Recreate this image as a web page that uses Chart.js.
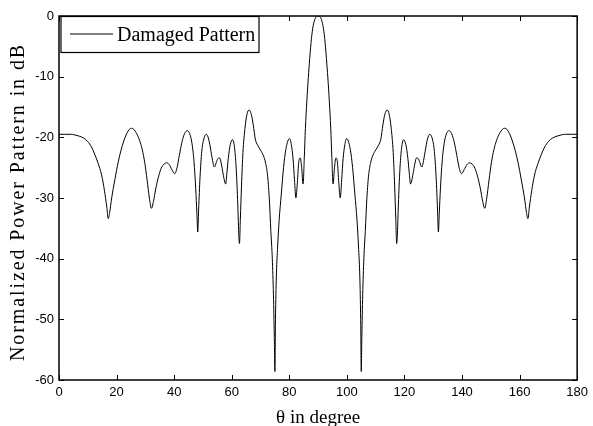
<!DOCTYPE html>
<html>
<head>
<meta charset="utf-8">
<script src="https://cdn.jsdelivr.net/npm/chart.js@4.4.1/dist/chart.umd.min.js"></script>
<style>
  html, body { margin: 0; padding: 0; background: #fff; }
  canvas { display: block; }
</style>
</head>
<body>
<canvas id="myChart" width="593" height="426"></canvas>
<script>
/*  Damaged array pattern  */

  const angles = [
    0, 2, 4, 5.5, 7, 8.5, 10, 11.3, 12.5, 13.6, 14.8, 15.8, 16.6, 17.1, 17.6, 18.3, 19.4, 20.6, 21.5, 22.5,
    23.5, 24.4, 25.2, 26, 27, 28, 28.9, 29.8, 30.6, 31.4, 32.1, 32.8, 33.6, 34.5, 35.5, 36.5, 37.4, 38.3, 39.2, 40.2,
    41, 41.8, 42.7, 43.6, 44.6, 45.4, 46.2, 46.9, 47.5, 47.9, 48.2, 48.5, 49, 49.6, 50.4, 51.2, 52, 52.8, 53.5, 54,
    54.6, 55.2, 55.8, 56.4, 57, 57.5, 57.9, 58.3, 58.8, 59.5, 60.3, 61, 61.6, 62.1, 62.5, 62.7, 63, 63.4, 63.9, 64.6,
    65.3, 66, 66.8, 67.5, 68.2, 69, 70, 71, 71.8, 72.5, 73.1, 73.6, 74.1, 74.5, 74.8, 75, 75.2, 75.5, 75.9, 76.5,
    77.2, 78, 78.8, 79.5, 80.1, 80.7, 81.3, 81.8, 82.3, 82.8, 83.3, 83.8, 84.3, 84.8, 85.2, 85.6, 86.1, 86.6, 87.1, 87.7,
    88.3, 89, 89.5, 90,
    90.5, 91, 91.7, 92.3, 92.9, 93.4, 93.9, 94.4, 94.8, 95.2, 95.7, 96.2, 96.7, 97.2, 97.7, 98.2, 98.7, 99.3, 99.9, 100.5,
    101.2, 102, 102.8, 103.5, 104.1, 104.5, 104.8, 105, 105.2, 105.5, 105.9, 106.4, 106.9, 107.5, 108.2, 109, 110, 111, 111.8, 112.5,
    113.2, 114, 114.7, 115.4, 116.1, 116.6, 117, 117.3, 117.5, 117.9, 118.4, 119, 119.7, 120.5, 121.2, 121.7, 122.1, 122.5, 123, 123.6,
    124.2, 124.8, 125.4, 126, 126.5, 127.2, 128, 128.8, 129.6, 130.4, 131, 131.5, 131.8, 132.1, 132.5, 133.1, 133.8, 134.6, 135.4, 136.4,
    137.3, 138.2, 139, 139.8, 140.8, 141.7, 142.6, 143.5, 144.5, 145.5, 146.4, 147.2, 147.9, 148.6, 149.4, 150.2, 151.1, 152, 153, 154,
    154.8, 155.6, 156.5, 157.5, 158.5, 159.4, 160.6, 161.7, 162.4, 162.9, 163.4, 164.2, 165.2, 166.4, 167.5, 168.7, 170, 171.5, 173, 174.5,
    176, 178, 180
  ];

  const pattern = [
    -19.5, -19.5, -19.5, -19.6, -19.8, -20.1, -20.7, -21.6, -22.9, -24.3, -26.2, -28.8, -31.5, -33.4, -32.4, -30, -27, -24, -22.2, -20.6,
    -19.4, -18.7, -18.5, -18.7, -19.4, -20.5, -22, -24.2, -27, -30, -31.7, -30.6, -28.5, -26.6, -25.1, -24.4, -24.2, -24.5, -25.3, -26,
    -25, -23, -20.8, -19.4, -18.9, -19.4, -21, -24, -28.5, -32.5, -35.6, -32, -26.5, -22.3, -20.1, -19.5, -20.3, -22.3, -24.2, -24.9,
    -24.2, -23.5, -23.4, -24.4, -26, -27.2, -27.7, -26, -23.5, -21.2, -20.4, -21.8, -25.5, -31, -36.5, -37.5, -33.5, -28, -22.5, -18.5,
    -16.2, -15.5, -16.2, -18, -20.3, -21.3, -22.1, -23, -24.3, -26.5, -30.5, -35.5, -40, -46, -53, -58.6, -50, -43, -38.5, -33.5,
    -29.5, -25, -22, -20.6, -20.2, -21.2, -23.5, -27, -30, -27.5, -24, -23.4, -25, -27.7, -23.5, -18.5, -14, -10.2, -7, -3.7,
    -1.6, -0.4, -0.05, 0,
    -0.05, -0.4, -1.6, -3.7, -7, -10.2, -14, -18.5, -23.5, -27.7, -25, -23.4, -24, -27.5, -30, -27, -23.5, -21.2, -20.2, -20.6,
    -22, -25, -29.5, -33.5, -38.5, -43, -50, -58.6, -53, -46, -40, -35.5, -30.5, -26.5, -24.3, -23, -22.1, -21.3, -20.3, -18,
    -16.2, -15.5, -16.2, -18.5, -22.5, -28, -33.5, -37.5, -36.5, -31, -25.5, -21.8, -20.4, -21.2, -23.5, -26, -27.7, -27.2, -26, -24.4,
    -23.4, -23.5, -24.2, -24.9, -24.2, -22.3, -20.3, -19.5, -20.1, -22.3, -26.5, -32, -35.6, -32.5, -28.5, -24, -21, -19.4, -18.9, -19.4,
    -20.8, -23, -25, -26, -25.3, -24.5, -24.2, -24.4, -25.1, -26.6, -28.5, -30.6, -31.7, -30, -27, -24.2, -22, -20.5, -19.4, -18.7,
    -18.5, -18.7, -19.4, -20.6, -22.2, -24, -27, -30, -32.4, -33.4, -31.5, -28.8, -26.2, -24.3, -22.9, -21.6, -20.7, -20.1, -19.8, -19.6,
    -19.5, -19.5, -19.5
  ];

  const xTicks = [0, 20, 40, 60, 80, 100, 120, 140, 160, 180];
  const yTicks = [-60, -50, -40, -30, -20, -10, 0];

  const seriesLabel = 'Damaged Pattern';
  const xTitle = 'θ in degree';
  const yTitle = 'Normalized Power Pattern in dB';

  const serif = '"Liberation Serif", "Times New Roman", serif';
  const sans = '"Liberation Sans", Arial, sans-serif';

  // frame, inward ticks, legend box and axis titles (MATLAB look)
  const matlabDecor = {
    id: 'matlabDecor',
    afterDraw(chart) {
      const ctx = chart.ctx;
      const a = chart.chartArea;
      const xs = chart.scales.x;
      const ys = chart.scales.y;
      const tl = 5;

      ctx.save();
      ctx.strokeStyle = '#000';
      ctx.lineWidth = 1;
      ctx.beginPath();
      xTicks.forEach(v => {
        const px = Math.round(xs.getPixelForValue(v)) + 0.5;
        ctx.moveTo(px, a.bottom); ctx.lineTo(px, a.bottom - tl);
        ctx.moveTo(px, a.top); ctx.lineTo(px, a.top + tl);
      });
      yTicks.forEach(v => {
        const py = Math.round(ys.getPixelForValue(v)) + 0.5;
        ctx.moveTo(a.left, py); ctx.lineTo(a.left + tl, py);
        ctx.moveTo(a.right, py); ctx.lineTo(a.right - tl, py);
      });
      ctx.stroke();

      ctx.lineWidth = 1.5;
      ctx.strokeRect(a.left, a.top, a.right - a.left, a.bottom - a.top);

      // legend
      const lx = a.left + 2, ly = a.top + 0.5, lw = 198, lh = 36;
      ctx.fillStyle = '#fff';
      ctx.fillRect(lx, ly, lw, lh);
      ctx.lineWidth = 1.2;
      ctx.strokeRect(lx, ly, lw, lh);
      ctx.lineWidth = 1;
      ctx.beginPath();
      ctx.moveTo(lx + 9, ly + 17.5);
      ctx.lineTo(lx + 52, ly + 17.5);
      ctx.stroke();
      ctx.fillStyle = '#000';
      ctx.font = '20px ' + serif;
      ctx.textAlign = 'left';
      ctx.textBaseline = 'middle';
      ctx.fillText(seriesLabel, lx + 56, ly + 19);

      // x title
      ctx.font = '19px ' + serif;
      ctx.textAlign = 'center';
      ctx.textBaseline = 'alphabetic';
      ctx.fillText(xTitle, (a.left + a.right) / 2, 423);

      // y title, letter spaced
      ctx.translate(24, 202);
      ctx.rotate(-Math.PI / 2);
      ctx.font = '20px ' + serif;
      ctx.letterSpacing = '1.9px';
      ctx.textAlign = 'center';
      ctx.textBaseline = 'alphabetic';
      ctx.fillText(yTitle, 0, 0);
      ctx.restore();
    }
  };

  const ctx = document.getElementById('myChart').getContext('2d');
  const myChart = new Chart(ctx, {
    type: 'line',
    data: {
      datasets: [{
        label: seriesLabel,
        data: angles.map((a, i) => ({ x: a, y: pattern[i] })),
        borderColor: '#000',
        borderWidth: 1,
        pointRadius: 0,
        fill: false,
        cubicInterpolationMode: 'monotone'
      }]
    },
    options: {
      responsive: false,
      animation: false,
      layout: { padding: { top: 16, right: 14, left: 0, bottom: 0 } },
      plugins: {
        legend: { display: false },
        tooltip: { enabled: false }
      },
      scales: {
        x: {
          type: 'linear',
          min: 0,
          max: 180,
          afterBuildTicks: s => { s.ticks = xTicks.map(v => ({ value: v })); },
          afterFit: s => { s.height = 46; },
          grid: { display: false, drawTicks: false },
          border: { display: false },
          ticks: { color: '#000', padding: 5, maxRotation: 0, font: { family: sans, size: 13 } }
        },
        y: {
          type: 'linear',
          min: -60,
          max: 0,
          afterBuildTicks: s => { s.ticks = yTicks.map(v => ({ value: v })); },
          afterFit: s => { s.width = 59; },
          grid: { display: false, drawTicks: false },
          border: { display: false },
          ticks: { color: '#000', padding: 5, font: { family: sans, size: 13 } }
        }
      }
    },
    plugins: [matlabDecor]
  });
</script>
</body>
</html>
